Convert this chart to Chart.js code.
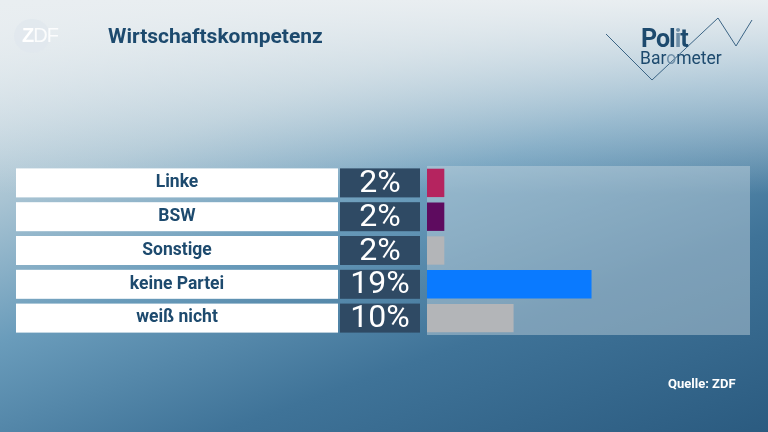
<!DOCTYPE html>
<html><head><meta charset="utf-8">
<script src="https://cdn.jsdelivr.net/npm/chart.js@4"></script>
<style>
html,body{margin:0;padding:0;width:768px;height:432px;overflow:hidden;}
body{background:linear-gradient(180deg,rgba(233,238,241,1) 0%,rgba(233,238,241,0) 45%),linear-gradient(160deg,#e6ecef 0%,#a9c4d3 28%,#6a9cbb 48%,#3f7398 72%,#2b5b80 100%);font-family:Roboto,"Liberation Sans",sans-serif;}
#wrap{position:absolute;left:0;top:0;width:768px;height:432px;}
.t{position:absolute;color:#1d4a6e;font-weight:bold;}
</style></head><body>
<div id="wrap"><canvas id="c" width="768" height="432"></canvas></div>
<div style="position:absolute;left:14px;top:19px;width:36px;height:34px;border-radius:50%;background:rgba(225,232,237,0.85)"></div>
<div style="position:absolute;left:22px;top:24px;font:bold 20px 'Liberation Sans',sans-serif;color:#fff;letter-spacing:-1px">Z<span style="color:rgba(255,255,255,0.85);font-weight:normal">DF</span></div>
<div class="t" style="left:108px;top:24px;font-size:21px">Wirtschaftskompetenz</div>
<svg style="position:absolute;left:0;top:0" width="768" height="100"><polyline points="606,34 652,80 718,18 736,46 752,20" fill="none" stroke="#3b6484" stroke-width="1"/></svg>
<div class="t" style="left:641px;top:24px;font-size:25px;letter-spacing:-1px">Pol<span style="color:#6f8fa8">i</span>t</div>
<div style="position:absolute;left:640px;top:48px;font-size:17.5px;color:#1d4a6e">Bar<span style="color:#6f8fa8">o</span>meter</div>
<div class="t" style="left:668px;top:376px;font-size:13px;color:#fff">Quelle: ZDF</div>
<script>
const categories=["Linke","BSW","Sonstige","keine Partei","weiß nicht"];
const values=[2,2,2,19,10];
const valueLabels=["2%","2%","2%","19%","10%"];
const colors=["#b5245f","#5e0b5f","#b3b5b8","#0a7aff","#b3b5b8"];
const boxes={id:'boxes',beforeDatasetsDraw(ch){const c=ch.ctx,y=ch.scales.y,a=ch.chartArea;
 c.save();c.fillStyle='rgba(200,215,225,0.45)';c.fillRect(a.left,a.top,a.right-a.left,a.bottom-a.top);
 categories.forEach((cat,i)=>{const yc=y.getPixelForValue(i),h=29;
  c.fillStyle='#fff';c.fillRect(16,yc-h/2,322,h);
  c.fillStyle='#2f4a64';c.fillRect(340,yc-h/2,80,h);
  c.fillStyle='#1d4a6e';c.font='bold 17.5px Roboto';c.textAlign='center';c.textBaseline='middle';c.fillText(cat,177,yc);
  c.fillStyle='#fff';c.font='32px Roboto';c.fillText(valueLabels[i],380,yc+1);
 });c.restore();}};
new Chart(document.getElementById('c'),{type:'bar',
 data:{labels:categories,datasets:[{data:values,backgroundColor:colors,barPercentage:0.84,categoryPercentage:1}]},
 options:{indexAxis:'y',responsive:false,animation:false,events:[],
  layout:{padding:{left:427,right:18,top:166,bottom:97}},
  plugins:{legend:{display:false},tooltip:{enabled:false}},
  scales:{x:{display:false,min:0,max:37.3},y:{display:false}}},
 plugins:[boxes]});
</script></body></html>
